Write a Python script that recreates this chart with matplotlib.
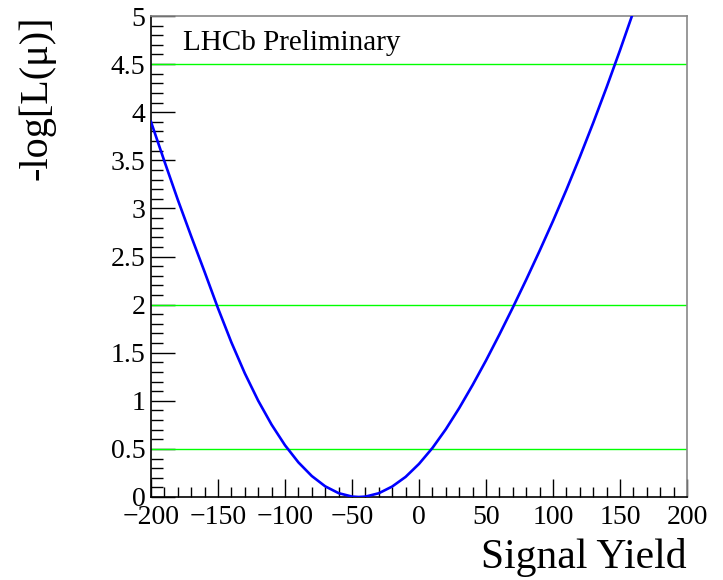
import numpy as np
import matplotlib
matplotlib.use("Agg")
import matplotlib.pyplot as plt
from matplotlib.ticker import MultipleLocator

# profile scan of -log L vs fitted signal yield
YIELD = [-200, -190, -180, -170, -160, -150, -140, -130, -120, -110,
         -100, -90, -80, -70, -60, -50, -45, -40, -30, -20,
         -10, 0, 10, 20, 30, 40, 50, 60, 70, 80,
         90, 100, 110, 120, 130, 140, 150, 160]
NLL = [3.90, 3.49, 3.09, 2.71, 2.34, 1.962, 1.607, 1.286, 1.001, 0.752,
       0.538, 0.360, 0.218, 0.111, 0.040, 0.0045, 0.0, 0.004, 0.039, 0.109,
       0.209, 0.344, 0.509, 0.704, 0.924, 1.164, 1.419, 1.689, 1.969, 2.259,
       2.559, 2.869, 3.194, 3.534, 3.889, 4.259, 4.644, 5.044]

# reference levels (1, 2, 3 sigma)
LEVELS = [0.5, 2.0, 4.5]

XMIN, XMAX = -200, 200
YMIN, YMAX = 0, 5

plt.rcParams['font.family'] = ['Liberation Serif', 'DejaVu Serif']
plt.rcParams['axes.unicode_minus'] = True

fig = plt.figure(figsize=(7.23, 5.80), dpi=100)
ax = fig.add_axes([151/723, 83/580, 536/723, 481/580])

for lv in LEVELS:
    ax.plot([XMIN, XMAX], [lv, lv], color='#00ff00', lw=1.0, zorder=2)
ax.plot(YIELD, NLL, color='#0000ff', lw=1.9, zorder=3, clip_on=True,
        solid_joinstyle='round')

ax.set_xlim(XMIN, XMAX)
ax.set_ylim(YMIN, YMAX)

ax.xaxis.set_major_locator(MultipleLocator(50))
ax.xaxis.set_minor_locator(MultipleLocator(10))
ax.yaxis.set_major_locator(MultipleLocator(0.5))
ax.yaxis.set_minor_locator(MultipleLocator(0.1))
ax.yaxis.set_major_formatter(plt.FuncFormatter(lambda v, p: f"{v:g}"))

ax.tick_params(which='both', direction='in', top=False, right=False,
               labelsize=20, color='black', width=1.0)
ax.tick_params(which='major', axis='y', length=17, pad=4)
ax.tick_params(which='minor', axis='y', length=8.5)
ax.tick_params(which='major', axis='x', length=13, pad=6)
ax.tick_params(which='minor', axis='x', length=7)

for side in ('left', 'bottom'):
    ax.spines[side].set_color('black')
    ax.spines[side].set_linewidth(1.2)
for side in ('top', 'right'):
    ax.spines[side].set_color('#888888')
    ax.spines[side].set_linewidth(1.2)

ax.set_xlabel("Signal Yield", fontsize=30, loc='right')
ax.xaxis.set_label_coords(1.0, -0.085)
ax.set_ylabel("-log[L(\u03bc)]", fontsize=29, loc='top')
ax.yaxis.set_label_coords(-0.178, 1.0)

ax.text(0.06, 0.929, "LHCb Preliminary", transform=ax.transAxes,
        fontsize=21, ha='left', va='baseline')

fig.savefig("out.png", dpi=100)
